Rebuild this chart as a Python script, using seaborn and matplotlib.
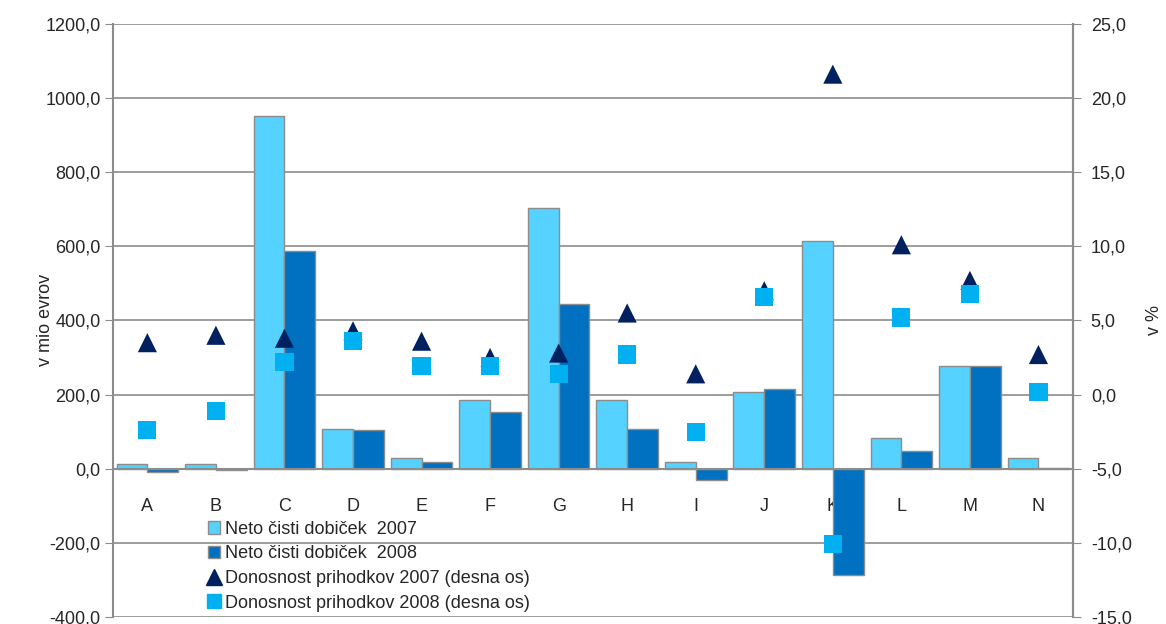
import numpy as np
import pandas as pd
import seaborn as sns
import matplotlib.pyplot as plt
from matplotlib.ticker import FuncFormatter, MultipleLocator, FixedLocator
from matplotlib.lines import Line2D
from matplotlib.patches import Patch

# data
categories = ["A", "B", "C", "D", "E", "F", "G", "H", "I", "J", "K", "L", "M", "N"]
profit_2007 = [14, 14, 950, 108, 30, 186, 702, 186, 18, 208, 613, 84, 278, 30]
profit_2008 = [-10, -3, 588, 105, 17, 154, 445, 108, -30, 216, -286, 47, 278, 3]
return_2007 = [3.5, 4.0, 3.8, 4.3, 3.6, 2.5, 2.8, 5.5, 1.4, 7.0, 21.6, 10.1, 7.7, 2.7]
return_2008 = [-2.4, -1.1, 2.2, 3.6, 1.9, 1.9, 1.4, 2.7, -2.5, 6.6, -10.1, 5.2, 6.8, 0.2]

lab_p07 = "Neto čisti dobiček  2007"
lab_p08 = "Neto čisti dobiček  2008"
lab_r07 = "Donosnost prihodkov 2007 (desna os)"
lab_r08 = "Donosnost prihodkov 2008 (desna os)"

c_p07 = "#55D2FF"
c_p08 = "#0070C0"
c_r07 = "#002060"
c_r08 = "#00B0F0"
grey = "#8C8C8C"

sns.set_style("white")
plt.rcParams["font.family"] = ["Liberation Sans", "DejaVu Sans"]
plt.rcParams["font.size"] = 13

df = pd.DataFrame({
    "cat": categories * 2,
    "val": profit_2007 + profit_2008,
    "series": [lab_p07] * len(categories) + [lab_p08] * len(categories),
})

fig, ax = plt.subplots(figsize=(11.66, 6.24), dpi=100)
fig.subplots_adjust(left=0.097, right=0.92, top=0.962, bottom=0.011)

sns.barplot(data=df, x="cat", y="val", hue="series", palette=[c_p07, c_p08],
            width=0.9, edgecolor=grey, linewidth=1, saturation=1, ax=ax, legend=False)

ax.set_ylim(-400, 1200)
ax.set_xlim(-0.5, len(categories) - 0.5)
ax.yaxis.set_major_locator(MultipleLocator(200))
ax.yaxis.set_major_formatter(FuncFormatter(lambda v, p: f"{v:.1f}".replace(".", ",")))
ax.yaxis.grid(True, color="#8C8C8C", linewidth=1.2)
ax.set_axisbelow(True)
ax.set_xlabel("")
ax.set_ylabel("v mio evrov")
ax.yaxis.set_label_coords(-0.062, 0.5)

ax.spines["top"].set_visible(False)
ax.spines["bottom"].set_position(("data", 0))
for s in ["left", "right", "bottom"]:
    ax.spines[s].set_color(grey)
    ax.spines[s].set_linewidth(1.5)

ax.xaxis.set_minor_locator(FixedLocator(np.arange(-0.5, len(categories), 1)))
ax.tick_params(axis="x", which="major", length=0, pad=21)
ax.tick_params(axis="x", which="minor", length=6, direction="out", color=grey)
ax.tick_params(axis="y", length=6, direction="out", color=grey, left=True, pad=3)

ax2 = ax.twinx()
sns.scatterplot(x=np.arange(len(categories)), y=return_2007, marker="^", s=190,
                color=c_r07, edgecolor="none", ax=ax2, zorder=5)
sns.scatterplot(x=np.arange(len(categories)), y=return_2008, marker="s", s=170,
                color=c_r08, edgecolor="none", ax=ax2, zorder=5)
ax2.set_ylim(-15, 25)
ax2.set_xlim(-0.5, len(categories) - 0.5)
ax2.yaxis.set_major_locator(MultipleLocator(5))
ax2.yaxis.set_major_formatter(FuncFormatter(lambda v, p: f"{v:.1f}".replace(".", ",")))
ax2.tick_params(axis="y", length=6, direction="out", color=grey, right=True, pad=7)
ax2.set_ylabel("v %")
ax2.yaxis.set_label_coords(1.076, 0.5)
for s in ["top", "left", "bottom"]:
    ax2.spines[s].set_visible(False)
ax2.spines["right"].set_color(grey)
ax2.spines["right"].set_linewidth(1.5)

handles = [
    Patch(facecolor=c_p07, edgecolor=grey, linewidth=1),
    Patch(facecolor=c_p08, edgecolor=grey, linewidth=1),
    Line2D([], [], marker="^", color=c_r07, linestyle="none", markersize=11),
    Line2D([], [], marker="s", color=c_r08, linestyle="none", markersize=10),
]
labels = [lab_p07, lab_p08, lab_r07, lab_r08]
fig.legend(handles, labels, loc="upper left", bbox_to_anchor=(0.172, 0.177),
           frameon=False, handlelength=0.7, handleheight=0.7, handletextpad=0.25,
           labelspacing=0.42, borderaxespad=0, fontsize=13)

plt.savefig("out.png", dpi=100)
